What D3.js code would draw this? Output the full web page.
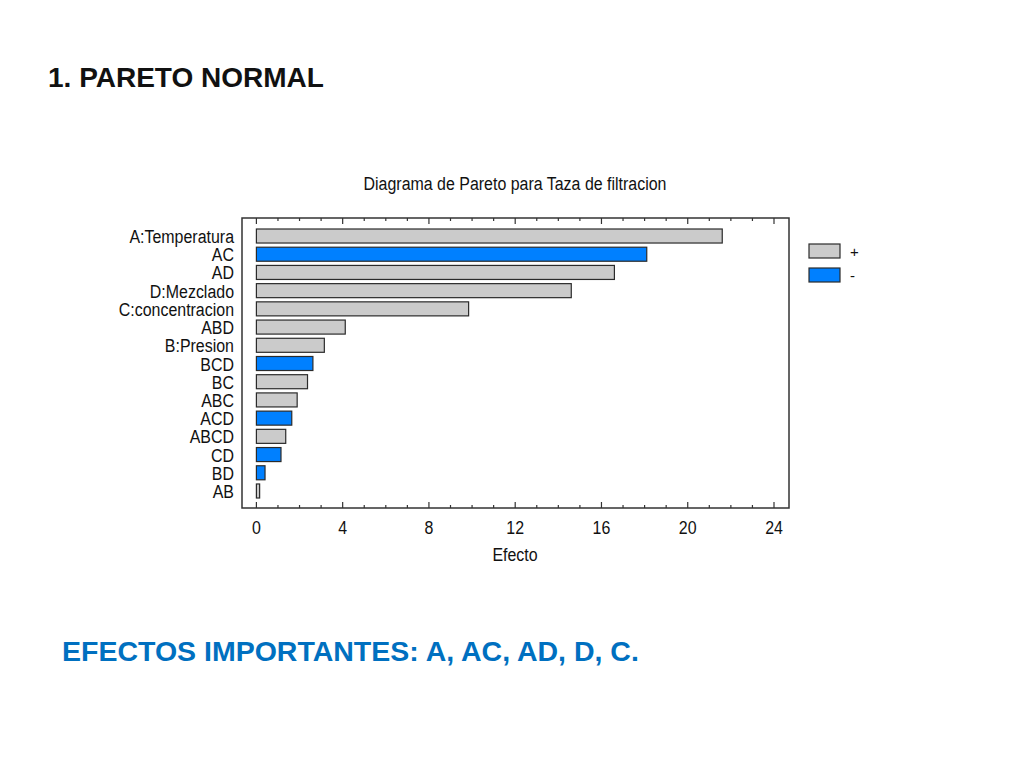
<!DOCTYPE html>
<html>
<head>
<meta charset="utf-8">
<script src="https://cdn.jsdelivr.net/npm/d3@7"></script>
<style>
  body { margin: 0; background: #fff; }
  svg { display: block; }
</style>
</head>
<body>
<div id="chart"></div>
<script>
// Pareto data: effect names, absolute effects, and sign
const effects = ["A:Temperatura", "AC", "AD", "D:Mezclado", "C:concentracion", "ABD", "B:Presion",
                 "BCD", "BC", "ABC", "ACD", "ABCD", "CD", "BD", "AB"];
const values = [21.6, 18.1, 16.6, 14.6, 9.84, 4.12, 3.15, 2.62, 2.37, 1.89, 1.64, 1.36, 1.14, 0.40, 0.15];
const signs = ["+", "-", "+", "+", "+", "+", "+", "-", "+", "+", "-", "+", "-", "-", "+"];
const xTicks = [0, 4, 8, 12, 16, 20, 24];
const legendItems = ["+", "-"];

const data = effects.map((e, i) => ({ name: e, value: values[i], sign: signs[i] }));

const W = 1024, H = 768;
const font = "'Liberation Sans', Arial, sans-serif";
const squeeze = 0.84; // no narrow font installed, so squeeze Liberation Sans
const colorScale = d3.scaleOrdinal().domain(["+", "-"]).range(["#cbcbcb", "#0080ff"]);

const svg = d3.select("#chart").append("svg")
  .attr("width", W)
  .attr("height", H);

// condensed text helper
function narrowText(x, y, str, anchor, size) {
  return svg.append("text")
    .attr("transform", `translate(${x}, ${y}) scale(${squeeze}, 1)`)
    .attr("text-anchor", anchor)
    .style("font-family", font)
    .style("font-size", size + "px")
    .style("fill", "#111")
    .text(str);
}

// Slide heading
svg.append("text")
  .attr("x", 48).attr("y", 87)
  .style("font-family", font)
  .style("font-weight", "bold")
  .style("font-size", "28px")
  .style("fill", "#111")
  .text("1. PARETO NORMAL");

// Scales
const xScale = d3.scaleLinear().domain([0, 24]).range([256.4, 774]);
const yScale = d3.scaleBand().domain(effects).range([227, 500]).paddingInner(0.23).paddingOuter(0.11);

const frame = { left: 242, right: 789, top: 218, bottom: 508 };

// Frame
svg.append("rect")
  .attr("x", frame.left).attr("y", frame.top)
  .attr("width", frame.right - frame.left)
  .attr("height", frame.bottom - frame.top)
  .attr("fill", "none")
  .attr("stroke", "#333")
  .attr("stroke-width", 1.5);

// Inward ticks, top and bottom
const allTicks = d3.range(0, 25, 1);
const tickG = svg.append("g").attr("stroke", "#333").attr("stroke-width", 1.2);
allTicks.forEach(t => {
  const len = t % 4 === 0 ? 6 : 3;
  tickG.append("line")
    .attr("x1", xScale(t)).attr("x2", xScale(t))
    .attr("y1", frame.bottom).attr("y2", frame.bottom - len);
  tickG.append("line")
    .attr("x1", xScale(t)).attr("x2", xScale(t))
    .attr("y1", frame.top).attr("y2", frame.top + len);
});

// Tick labels
xTicks.forEach(t => narrowText(xScale(t), 534, t, "middle", 19));

// Axis title
narrowText(515, 561, "Efecto", "middle", 19);

// Chart title
narrowText(515, 190, "Diagrama de Pareto para Taza de filtracion", "middle", 19);

// Category labels
data.forEach(d => {
  narrowText(234, yScale(d.name) + yScale.bandwidth() / 2 + 7, d.name, "end", 19);
});

// Bars
svg.selectAll(".bar")
  .data(data)
  .enter()
  .append("rect")
  .attr("x", xScale(0))
  .attr("y", d => yScale(d.name))
  .attr("width", d => xScale(d.value) - xScale(0))
  .attr("height", yScale.bandwidth())
  .attr("fill", d => colorScale(d.sign))
  .attr("stroke", "#2b2b2b")
  .attr("stroke-width", 1.2);

// Legend
const legend = svg.selectAll(".legend")
  .data(legendItems)
  .enter()
  .append("g")
  .attr("transform", (d, i) => `translate(809, ${244 + i * 24})`);

legend.append("rect")
  .attr("width", 31).attr("height", 14)
  .attr("fill", d => colorScale(d))
  .attr("stroke", "#2b2b2b")
  .attr("stroke-width", 1.2);

legend.append("text")
  .attr("x", 41).attr("y", 13)
  .style("font-family", font)
  .style("font-size", "15px")
  .style("fill", "#111")
  .text(d => d);

// Conclusion line
svg.append("text")
  .attr("x", 62).attr("y", 661)
  .style("font-family", font)
  .style("font-weight", "bold")
  .style("font-size", "28.5px")
  .style("fill", "#0070c0")
  .text("EFECTOS IMPORTANTES: A, AC, AD, D, C.");
</script>
</body>
</html>
